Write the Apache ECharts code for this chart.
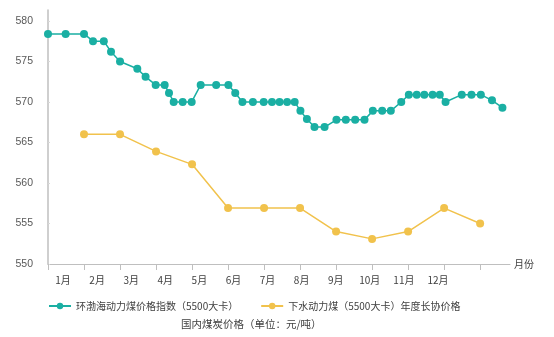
<!DOCTYPE html>
<html><head><meta charset="utf-8">
<script src="https://cdn.jsdelivr.net/npm/echarts@6/dist/echarts.min.js"></script>
<style>html,body{margin:0;padding:0;background:#fff}#c{width:554px;height:337px}</style>
</head><body><div id="c"></div>
<script>
const months = ['1月','2月','3月','4月','5月','6月','7月','8月','9月','10月','11月','12月'];
const yTicks = [550,555,560,565,570,575,580];
const monthTicks = [0,1,2,3,4,5,6,7,8,9,10,11,12];
const seriesNames = ['环渤海动力煤价格指数（5500大卡）','下水动力煤（5500大卡）年度长协价格'];
const titleText = '国内煤炭价格（单位：元/吨）';
// index series: position in months (0 = start of Jan) and value
const indexX = [0,0.49,1.0,1.25,1.55,1.75,2.0,2.48,2.71,2.99,3.24,3.36,3.49,3.74,3.99,4.24,4.67,5.01,5.20,5.40,5.69,5.99,6.22,6.43,6.64,6.85,7.01,7.19,7.40,7.68,8.01,8.27,8.53,8.79,9.02,9.28,9.52,9.81,10.02,10.24,10.45,10.68,10.88,11.04,11.49,11.76,12.02,12.33,12.62];
const indexY = [578.4,578.4,578.4,577.5,577.5,576.2,575.0,574.1,573.1,572.1,572.1,571.1,570.0,570.0,570.0,572.1,572.1,572.1,571.1,570.0,570.0,570.0,570.0,570.0,570.0,570.0,568.9,567.9,566.9,566.9,567.8,567.8,567.8,567.8,568.9,568.9,568.9,570.0,570.9,570.9,570.9,570.9,570.9,570.0,570.9,570.9,570.9,570.2,569.3];
const contractX = [1,2,3,4,5,6,7,8,9,10,11,12];
const contractY = [566.0,566.0,563.9,562.3,556.9,556.9,556.9,554.0,553.1,554.0,556.9,555.0];

const chart = echarts.init(document.getElementById('c'), null, {renderer:'canvas'});
const zip = (a,b) => a.map((v,i)=>[v,b[i]]);
const axisGrey = '#bfbfbf';
const textGrey = '#595959';
chart.setOption({
  animation:false,
  title:{text:titleText,left:176,top:314,textStyle:{fontSize:10.5,fontWeight:'normal',color:'#404040',fontFamily:'Noto Sans CJK SC'}},
  legend:{
    data:seriesNames,left:43,top:296,itemWidth:22,itemHeight:8,itemGap:22,itemTextGap:7,
    textStyle:{fontSize:10,color:'#404040',fontFamily:'Noto Sans CJK SC'}
  },
  grid:[
    {left:48,right:44,top:10,bottom:73,containLabel:false},
    {left:46,width:409,top:10,bottom:73,containLabel:false}
  ],
  xAxis:[
    {type:'value',gridIndex:0,min:0,max:12.83,interval:1,
     axisLine:{show:true,lineStyle:{color:axisGrey,width:1}},
     axisTick:{show:true,length:6,lineStyle:{color:axisGrey},customValues:monthTicks},
     axisLabel:{show:false},splitLine:{show:false},
     name:'月份',nameLocation:'end',nameGap:4,nameTextStyle:{fontSize:10,color:'#404040',fontFamily:'Noto Sans CJK SC'}},
    {type:'category',gridIndex:1,data:months,boundaryGap:true,
     axisLine:{show:false},axisTick:{show:false},splitLine:{show:false},
     axisLabel:{margin:11,fontSize:10,color:'#404040',fontFamily:'Noto Sans CJK SC'}}
  ],
  yAxis:[
    {type:'value',gridIndex:0,min:550,max:581.35,
     axisLine:{show:true,lineStyle:{color:axisGrey,width:1.5}},
     axisTick:{show:true,inside:true,length:2,lineStyle:{color:'#d9d9d9'},customValues:yTicks},
     axisLabel:{customValues:yTicks,margin:15,fontSize:10.5,color:textGrey,fontFamily:'Liberation Sans'},
     splitLine:{show:false}},
    {type:'value',gridIndex:1,show:false,min:550,max:581.35}
  ],
  series:[
    {name:seriesNames[0],type:'line',xAxisIndex:0,yAxisIndex:0,data:zip(indexX,indexY),
     symbol:'circle',symbolSize:8,itemStyle:{color:'#1aafa3'},lineStyle:{color:'#1aafa3',width:1.5}},
    {name:seriesNames[1],type:'line',xAxisIndex:0,yAxisIndex:0,data:zip(contractX,contractY),
     symbol:'circle',symbolSize:8,itemStyle:{color:'#f1c24c'},lineStyle:{color:'#f1c24c',width:1.5}}
  ]
});
</script></body></html>
